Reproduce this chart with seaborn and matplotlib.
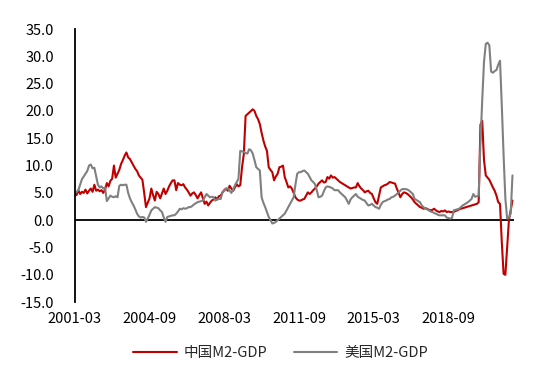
import numpy as np
import pandas as pd
import matplotlib
matplotlib.use("Agg")
import matplotlib.pyplot as plt
import seaborn as sns

# ---- data (monthly, 2001-03 .. 2021-09) ----
start_month = "2001-03"
cn_m2_gdp = [
    5.1, 4.6, 5.5, 4.8, 5.2, 5.0, 5.6, 4.9, 5.4, 5.8, 5.2, 6.5, 5.4, 5.6, 5.3, 5.5, 5.0, 5.6,
    6.8, 6.2, 7.2, 7.6, 10.0, 7.8, 8.5, 9.2, 10.3, 11.0, 11.8, 12.4, 11.5, 11.2, 10.6, 10.0,
    9.4, 9.0, 8.2, 7.8, 7.4, 5.0, 2.4, 3.2, 4.0, 5.8, 4.6, 3.6, 5.2, 4.8, 4.0, 4.9, 5.8, 4.8,
    5.4, 6.2, 6.8, 7.3, 7.3, 5.5, 6.8, 6.5, 6.4, 6.6, 6.0, 5.6, 5.1, 4.5, 4.9, 5.1, 4.6, 4.0,
    4.6, 5.1, 4.0, 3.0, 3.4, 2.7, 3.2, 3.6, 3.8, 4.2, 3.8, 4.4, 4.5, 5.1, 5.5, 5.8, 5.4, 6.3,
    5.8, 5.4, 6.0, 6.6, 6.2, 6.4, 9.7, 12.1, 19.1, 19.4, 19.7, 20.0, 20.3, 20.0, 19.1, 18.5,
    17.6, 16.0, 14.6, 13.5, 12.7, 9.7, 9.2, 8.8, 7.3, 8.0, 8.5, 9.7, 9.8, 10.0, 7.9, 7.0,
    6.0, 6.2, 5.8, 5.0, 4.2, 3.8, 3.6, 3.6, 3.8, 3.9, 4.5, 5.1, 4.8, 5.1, 5.5, 5.8, 6.2, 6.7,
    7.0, 7.3, 6.9, 7.0, 7.9, 7.6, 8.2, 7.8, 7.9, 7.6, 7.3, 7.0, 6.8, 6.6, 6.4, 6.2, 6.0, 5.8,
    5.9, 6.0, 6.0, 6.8, 6.2, 5.8, 5.5, 5.1, 5.3, 5.4, 5.0, 4.8, 4.0, 3.3, 3.0, 4.5, 6.0, 6.2,
    6.4, 6.5, 6.7, 7.0, 6.9, 6.8, 6.7, 5.8, 5.0, 4.2, 4.8, 5.1, 5.0, 4.8, 4.5, 4.2, 3.8, 3.3,
    3.0, 2.7, 2.4, 2.3, 2.1, 2.2, 2.1, 1.9, 1.8, 1.9, 2.1, 1.8, 1.6, 1.5, 1.7, 1.6, 1.8, 1.5,
    1.6, 1.5, 1.5, 1.5, 1.7, 1.8, 2.0, 2.1, 2.2, 2.3, 2.4, 2.5, 2.6, 2.7, 2.8, 2.9, 3.0, 3.3,
    17.5, 18.2, 11.0, 8.2, 7.8, 7.4, 6.7, 6.0, 5.4, 4.5, 3.3, 3.0, -4.0, -9.8, -10.0, -5.0,
    0.0, 1.8, 3.6,
]
us_m2_gdp = [
    5.0, 5.2, 5.5, 6.5, 7.5, 8.0, 8.5, 9.0, 10.0, 10.2, 9.5, 9.6, 8.0, 6.5, 6.0, 6.2, 5.8, 6.0,
    3.5, 4.0, 4.5, 4.3, 4.2, 4.4, 4.2, 6.3, 6.5, 6.4, 6.5, 6.5, 5.0, 4.0, 3.3, 2.7, 2.0, 1.2,
    0.7, 0.5, 0.6, 0.5, -0.3, 0.3, 1.0, 1.8, 2.1, 2.4, 2.3, 2.2, 1.8, 1.5, 0.5, -0.3, 0.6, 0.7,
    0.8, 0.9, 0.9, 1.2, 1.6, 2.1, 2.0, 2.2, 2.1, 2.2, 2.4, 2.4, 2.6, 2.9, 3.1, 3.3, 3.4, 3.5,
    3.6, 4.2, 4.8, 4.5, 4.2, 4.3, 4.2, 3.6, 3.8, 3.9, 3.9, 5.1, 5.4, 5.8, 5.8, 5.4, 5.0, 5.6,
    6.4, 7.0, 7.6, 12.7, 12.6, 12.5, 12.3, 12.2, 13.0, 12.8, 12.2, 11.0, 9.7, 9.4, 9.1, 4.2,
    3.2, 2.4, 1.5, 0.6, 0.0, -0.6, -0.5, -0.3, 0.0, 0.3, 0.6, 0.9, 1.2, 1.8, 2.4, 3.0, 3.6,
    4.2, 6.5, 8.5, 8.8, 8.8, 9.0, 9.1, 8.8, 8.5, 7.9, 7.3, 7.0, 6.6, 5.5, 4.2, 4.3, 4.5, 5.3,
    6.0, 6.2, 6.1, 6.0, 5.8, 5.5, 5.5, 5.5, 5.1, 4.8, 4.5, 4.2, 3.6, 3.0, 3.8, 4.2, 4.5, 4.8,
    4.3, 4.1, 3.9, 3.7, 3.6, 3.1, 2.7, 2.8, 3.0, 2.7, 2.4, 2.3, 2.1, 2.8, 3.3, 3.5, 3.6, 3.8,
    3.9, 4.2, 4.3, 4.5, 4.8, 5.1, 5.4, 5.7, 5.7, 5.7, 5.6, 5.4, 5.1, 4.8, 3.9, 3.7, 3.5, 3.3,
    2.7, 2.4, 2.1, 2.0, 1.8, 1.6, 1.5, 1.3, 1.2, 1.0, 0.9, 0.9, 0.9, 0.9, 0.5, 0.4, 0.3, 0.4,
    1.8, 1.9, 2.0, 2.1, 2.4, 2.7, 2.9, 3.1, 3.3, 3.6, 3.9, 4.8, 4.3, 4.4, 4.5, 14.0, 22.0,
    29.0, 32.3, 32.5, 32.0, 27.2, 27.0, 27.3, 27.5, 28.5, 29.2, 21.0, 12.0, 4.0, 0.3, 0.5,
    1.2, 8.2,
]
series_names = ["中国M2-GDP", "美国M2-GDP"]
tick_labels = ["2001-03", "2004-09", "2008-03", "2011-09", "2015-03", "2018-09"]
y_ticks = [-15, -10, -5, 0, 5, 10, 15, 20, 25, 30, 35]

dates = pd.date_range(start_month, periods=len(cn_m2_gdp), freq="MS").strftime("%Y-%m")
df = pd.DataFrame({
    "idx": np.arange(len(dates)),
    "date": dates,
    series_names[0]: cn_m2_gdp,
    series_names[1]: us_m2_gdp,
})
long = df.melt(id_vars=["idx", "date"], value_vars=series_names,
               var_name="series", value_name="value")

sns.set_theme(style="white")
plt.rcParams["font.family"] = ["Noto Sans CJK SC", "DejaVu Sans"]
plt.rcParams["axes.unicode_minus"] = False

fig = plt.figure(figsize=(5.5, 3.82), dpi=100)
ax = fig.add_axes([0.136, 0.209, 0.935 - 0.136, 0.924 - 0.209])

palette = {series_names[0]: "#C00000", series_names[1]: "#808080"}
sns.lineplot(data=long, x="idx", y="value", hue="series", palette=palette,
             hue_order=series_names, linewidth=1.5, ax=ax, legend=True)

ax.axhline(0, color="black", linewidth=1.3, zorder=1)
ax.set_xlim(0, len(dates))
ax.set_ylim(-15, 35)
ax.set_yticks(y_ticks)
ax.set_yticklabels([f"{v:.1f}" for v in y_ticks], fontsize=10.5)
pos = [int(np.where(df["date"] == t)[0][0]) for t in tick_labels]
ax.set_xticks(pos)
ax.set_xticklabels(tick_labels, fontsize=10.5)
ax.tick_params(axis="y", length=0, pad=15, colors="black")
ax.tick_params(axis="x", length=0, pad=7, colors="black")
ax.set_xlabel("")
ax.set_ylabel("")
for s in ["top", "right", "bottom"]:
    ax.spines[s].set_visible(False)
ax.spines["left"].set_color("black")
ax.spines["left"].set_linewidth(1.3)
ax.grid(False)

handles, labels = ax.get_legend_handles_labels()
ax.legend_.remove()
fig.legend(handles, labels, loc="center", bbox_to_anchor=(0.51, 0.076), ncol=2,
           frameon=False, fontsize=10.5, handlelength=3.0, columnspacing=1.8,
           handletextpad=0.45)

fig.savefig("out.png", dpi=100)
